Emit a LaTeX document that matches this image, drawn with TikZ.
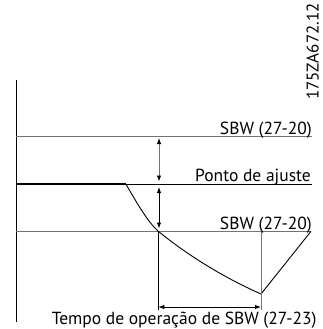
\documentclass[tikz,border=0pt]{standalone}
\usepackage{fontspec}
\setmainfont{PT Sans}
\usetikzlibrary{arrows.meta}
\begin{document}
\begin{tikzpicture}[x=1pt,y=-1pt,
  lbl/.style={inner sep=0pt,font=\fontsize{17.5}{19}\selectfont},
  grayline/.style={draw=black!55,line width=1pt},
  blackline/.style={draw=black,line width=0.9pt},
  dimarrow/.style={{Latex[length=6pt,width=4.5pt,black]}-{Latex[length=6pt,width=4.5pt,black]},line width=0.9pt}]
\useasboundingbox (0,0) rectangle (323,329);
% coordinates
\coordinate (axT) at (16,80);
\coordinate (axB) at (16,322);
\coordinate (sbwTL) at (16,136);
\coordinate (sbwTR) at (312,136);
\coordinate (spL) at (16,184.3);
\coordinate (spK) at (126,184.3);
\coordinate (spR) at (312,184.3);
\coordinate (sbwBL) at (16,231.3);
\coordinate (sbwBR) at (311,231.3);
\coordinate (cross) at (158.3,231.3);
\coordinate (low) at (261,294);
\coordinate (vL) at (158.3,310);
\coordinate (vR) at (261,310);
\coordinate (hL) at (158.3,307);
\coordinate (hR) at (261,307);
\coordinate (a1T) at (159,138);
\coordinate (a1B) at (159,181.5);
\coordinate (a2T) at (159,187);
\coordinate (a2B) at (159,228.5);
% axis
\draw[blackline] (axT) -- (axB);
% horizontal lines
\draw[grayline] (sbwTL) -- (sbwTR);
\draw[blackline] (spL) -- (spR);
\draw[line width=2.2pt] (spL) -- (spK);
\draw[grayline] (sbwBL) -- (sbwBR);
% curve
\draw[blackline] (spK) .. controls (137,203) and (147,221) .. (cross)
  .. controls (190,257) and (225,278) .. (low) -- (sbwBR);
% verticals
\draw[blackline] (cross) -- (vL);
\draw[grayline] (low |- sbwBR) -- (vR);
% arrows
\draw[dimarrow,draw=black!55] (a1T) -- (a1B);
\draw[dimarrow] (a2T) -- (a2B);
\draw[dimarrow] (hL) -- (hR);
% labels
\node[lbl,anchor=base east] (t1) at (312,134.5) {SBW (27-20)};
\node[lbl,anchor=base east] (t2) at (311,181.5) {Ponto de ajuste};
\node[lbl,anchor=base east] (t3) at (312,229) {SBW (27-20)};
\node[lbl,anchor=base] (t4) at (184.2,324.3) {Tempo de operação de SBW (27-23)};
\node[lbl,anchor=base,rotate=90,font=\fontsize{17}{18}\selectfont] (code) at (318.5,51.5) {175ZA672.12};
\end{tikzpicture}
\end{document}
